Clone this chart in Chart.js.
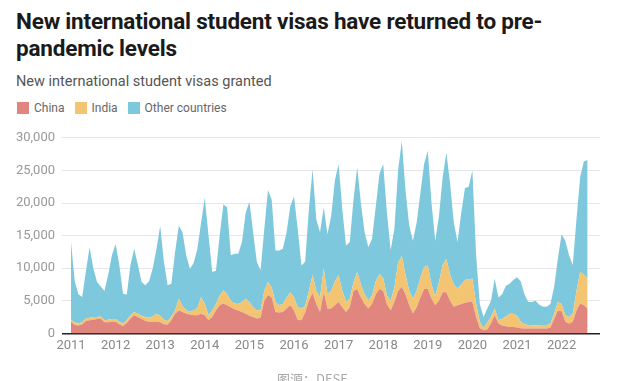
<!DOCTYPE html>
<html><head><meta charset="utf-8">
<script src="https://cdn.jsdelivr.net/npm/chart.js@4"></script>
<style>
html,body{margin:0;padding:0;background:#fff;width:625px;height:381px;overflow:hidden;font-family:Roboto,"Noto Sans",sans-serif}
#title{position:absolute;left:16px;top:8px;width:610px;font-size:22.5px;font-weight:700;color:#1a1a1a;line-height:27px;letter-spacing:-0.2px}
#sub{position:absolute;left:16px;top:73px;font-size:14.5px;color:#555}
#legend{position:absolute;left:17px;top:101px;font-size:12px;color:#666;display:flex;align-items:center}
#legend span.sw{display:inline-block;width:12px;height:12px;margin-right:5px}
#legend span.it{display:flex;align-items:center;margin-right:10px}
#src{position:absolute;left:0;width:625px;top:369px;text-align:center;font-size:13px;color:#aaa;font-family:"Noto Sans CJK SC",Roboto,sans-serif}
#wrap{position:absolute;left:0;top:123px;width:625px;height:249px}
</style></head><body>
<div id="title">New international student visas have returned to pre-<br>pandemic levels</div>
<div id="sub">New international student visas granted</div>
<div id="legend"></div>
<div id="wrap"><canvas id="c"></canvas></div>
<div id="src">图源：DESE</div>
<script>
// Monthly categories: Jan 2011 – Aug 2022
const firstYear = 2011;
const monthCount = 140;
const months = [];
for (let i = 0; i < monthCount; i++) {
  const y = firstYear + Math.floor(i / 12), m = (i % 12) + 1;
  months.push(y + '-' + String(m).padStart(2, '0'));
}
const yearTicks = [2011,2012,2013,2014,2015,2016,2017,2018,2019,2020,2021,2022];
const seriesNames = ['China','India','Other countries'];

const china = [1800,1300,1200,1400,1900,2000,2100,2200,2300,1700,1700,1800,
1800,1400,1150,1600,2300,2800,2500,2200,1900,1800,1800,1800,
1700,1400,1350,2000,3000,3500,3300,3000,2900,2800,2800,3000,
2800,2000,2500,3500,4300,4600,4300,4000,3700,3500,3300,3000,
2700,2500,2300,2400,5000,5900,5500,3300,3200,3300,3800,4300,
3500,2100,2000,3200,5000,6200,4500,3300,6300,3800,3800,4300,
4800,4000,3300,4000,6500,6800,5500,4500,3800,4500,6000,6800,
6500,4500,3500,4800,6500,7100,6000,4300,3050,4000,5500,6800,
6800,5300,4300,5000,6300,6300,5000,4100,4300,4500,4700,4800,
4800,2500,800,500,600,1500,2800,1500,1200,1100,1000,1000,
900,800,750,750,750,750,750,750,750,900,2200,3500,
3400,1800,1500,1800,3500,4600,4300,3800];

const india = [300,400,300,300,400,400,400,300,300,300,400,400,
400,400,350,400,500,500,500,500,600,600,800,1200,
1000,700,550,600,500,1800,900,500,500,700,1100,2600,
1700,800,1000,1000,1500,2000,1700,1000,900,1000,1500,2300,
2100,1500,1200,1200,1500,2000,1500,1500,1100,1200,1700,2000,
2000,1900,1800,1000,1500,2700,2000,2200,3600,2200,2700,3700,
4100,2500,1500,1300,1300,2600,2000,1500,1300,1300,2000,2300,
2000,1300,1500,2200,4300,4800,3000,2200,2250,2500,3000,3400,
3600,2200,1400,2800,4200,5100,4000,3400,2600,3000,3500,3500,
3600,2000,1000,300,1100,1000,1000,500,1000,1500,2000,2000,
1800,1000,650,550,550,450,550,550,550,600,800,1300,
1100,1000,1000,1200,3000,4800,4700,4600];

const other = [11900,6300,4500,3900,7200,10800,7500,5400,4600,4500,6900,9800,
11500,8700,4600,3950,7700,9700,7500,5200,4900,5600,7400,10000,
13800,8900,5500,5000,9000,11200,11300,8500,6500,7300,9100,11400,
16300,12200,5900,5100,9200,13200,13300,7000,7600,7700,9200,13200,
15400,11500,7500,6100,9500,14100,13500,7900,8400,8500,10000,13200,
15500,12000,6600,6800,12500,16300,11000,10000,9400,9200,11500,15500,
17100,12500,8700,8700,12700,16100,12500,9500,8100,8700,11500,15400,
17500,12700,7800,9000,14200,17600,13000,10000,8900,10500,13000,15800,
17600,12500,8500,10200,13500,16300,14000,9500,7100,11000,14100,14200,
16600,7500,2700,1700,2100,2500,4600,3500,3800,4700,4600,5200,
5900,6200,4600,3500,3500,3800,3100,2800,2800,3000,4200,6700,
10700,11400,9500,7500,11000,14600,17400,18200];

const colors = ['#e1857f','#f3c572','#7ec8dd'];

function toPoints(arr) {
  return arr.map((v, i) => {
    const [y, m] = months[i].split('-').map(Number);
    return { x: y + (m - 1) / 12, y: v };
  });
}

const legendEl = document.getElementById('legend');
seriesNames.forEach((n, i) => {
  const it = document.createElement('span'); it.className = 'it';
  const sw = document.createElement('span'); sw.className = 'sw'; sw.style.background = colors[i];
  it.appendChild(sw); it.appendChild(document.createTextNode(n));
  legendEl.appendChild(it);
});

const values = [china, india, other];
new Chart(document.getElementById('c'), {
  type: 'line',
  data: {
    datasets: values.map((arr, i) => ({
      label: seriesNames[i],
      data: toPoints(arr),
      backgroundColor: colors[i],
      borderColor: colors[i],
      borderWidth: 0,
      pointRadius: 0,
      tension: 0,
      fill: i === 0 ? 'origin' : '-1'
    }))
  },
  options: {
    responsive: true,
    maintainAspectRatio: false,
    animation: false,
    layout: { padding: { left: 0, right: 25, top: 10, bottom: 13 } },
    plugins: { legend: { display: false }, tooltip: { enabled: false } },
    scales: {
      x: {
        type: 'linear',
        min: 2010.798,
        max: 2022.861,
        grid: { display: false, drawTicks: false },
        border: { display: false },
        afterBuildTicks: s => { s.ticks = yearTicks.map(v => ({ value: v })); },
        ticks: { color: '#888', font: { family: 'Roboto', size: 13 }, padding: 5, maxRotation: 0, autoSkip: false,
          callback: v => String(v) }
      },
      y: {
        stacked: true,
        min: 0, max: 30000,
        afterFit: s => { s.width = 62; },
        border: { display: false },
        grid: { drawTicks: false, color: c => c.tick && c.tick.value === 0 ? '#222' : '#e6e6e6',
                lineWidth: c => c.tick && c.tick.value === 0 ? 1.5 : 1 },
        ticks: { stepSize: 5000, color: '#999', padding: 7, font: { family: 'Roboto', size: 13 },
          callback: v => v.toLocaleString('en-US') }
      }
    }
  }
});
</script>
</body></html>
